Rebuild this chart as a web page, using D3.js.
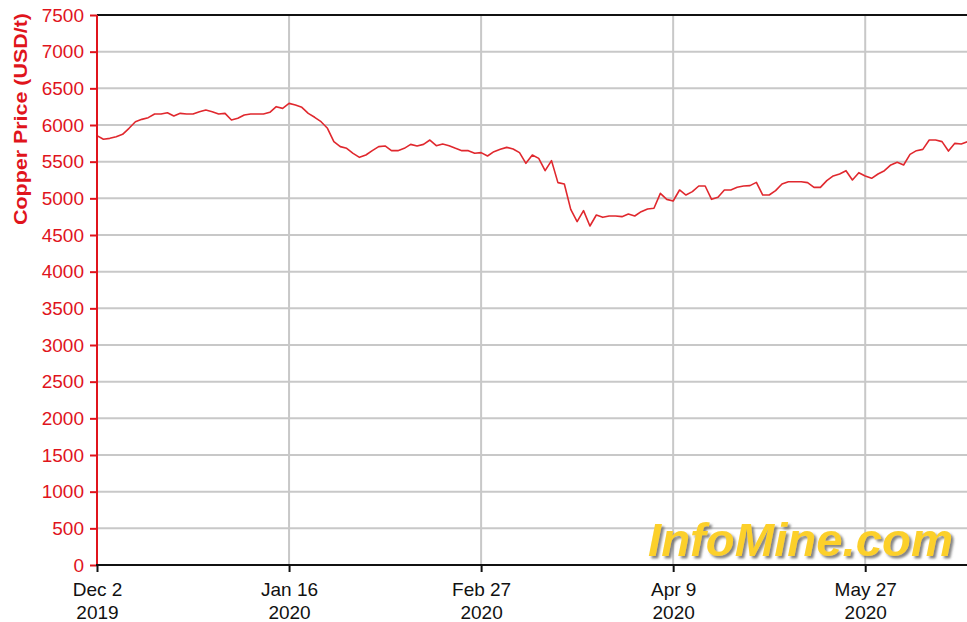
<!DOCTYPE html>
<html>
<head>
<meta charset="utf-8">
<script src="https://cdn.jsdelivr.net/npm/d3@7"></script>
<style>
  html, body { margin: 0; padding: 0; background: #fff; }
  svg { display: block; }
</style>
</head>
<body>
<script>
// ---- Data (LME copper price, USD/t, trading-day index) ----
const prices = [
  5855, 5805, 5818, 5840, 5873, 5955, 6045, 6077, 6100, 6150,
  6150, 6168, 6123, 6159, 6150, 6150, 6182, 6205, 6182, 6150,
  6159, 6068, 6091, 6136, 6150, 6150, 6150, 6173, 6250, 6227,
  6295, 6273, 6241, 6159, 6105, 6045, 5955, 5773, 5705, 5682,
  5614, 5559, 5591, 5650, 5705, 5714, 5650, 5650, 5682, 5736,
  5714, 5736, 5795, 5718, 5741, 5718, 5682, 5650, 5650, 5614,
  5623, 5577, 5636, 5668, 5695, 5673, 5623, 5477, 5591, 5545,
  5377, 5514, 5214, 5195, 4850, 4682, 4832, 4623, 4773, 4741,
  4759, 4759, 4750, 4786, 4759, 4818, 4855, 4864, 5068, 4986,
  4964, 5114, 5045, 5091, 5168, 5168, 4986, 5014, 5114, 5114,
  5150, 5168, 5173, 5218, 5045, 5045, 5105, 5195, 5227, 5227,
  5227, 5214, 5150, 5150, 5241, 5305, 5332, 5377, 5250, 5350,
  5305, 5273, 5332, 5377, 5455, 5491, 5455, 5600, 5650, 5668,
  5795, 5795, 5773, 5645, 5750, 5741, 5773
];
const xTickIndex = [0, 30, 60, 90, 120];
const xTickDate = ["Dec 2", "Jan 16", "Feb 27", "Apr 9", "May 27"];
const xTickYear = ["2019", "2020", "2020", "2020", "2020"];
const yTicks = [0, 500, 1000, 1500, 2000, 2500, 3000, 3500, 4000, 4500,
                5000, 5500, 6000, 6500, 7000, 7500];
const yTitle = "Copper Price (USD/t)";
const watermark = "InfoMine.com";

// ---- Layout ----
const W = 967, H = 622;
const pL = 97, pR = 967, pT = 15, pB = 565;
const red = "#e0141c";

const svg = d3.select("body").append("svg")
  .attr("width", W).attr("height", H)
  .style("font-family", "'Liberation Sans', Arial, sans-serif");

const defs = svg.append("defs");
const flt = defs.append("filter").attr("id", "shadow")
  .attr("x", "-5%").attr("y", "-20%").attr("width", "115%").attr("height", "150%");
flt.append("feDropShadow").attr("dx", 2.5).attr("dy", 2.5).attr("stdDeviation", 0.8)
  .attr("flood-color", "#6e6e6e").attr("flood-opacity", 0.85);

const x = d3.scaleLinear().domain([0, 135.9]).range([pL, pR]);
const y = d3.scaleLinear().domain([0, 7500]).range([pB, pT]);

// gridlines
svg.append("g").selectAll("line").data(yTicks.filter(d => d > 0 && d < 7500))
  .join("line")
  .attr("x1", pL).attr("x2", pR)
  .attr("y1", d => y(d)).attr("y2", d => y(d))
  .attr("stroke", "#c8c8c8").attr("stroke-width", 2);
svg.append("g").selectAll("line").data(xTickIndex.filter(d => d > 0))
  .join("line")
  .attr("x1", d => x(d)).attr("x2", d => x(d))
  .attr("y1", pT).attr("y2", pB)
  .attr("stroke", "#c8c8c8").attr("stroke-width", 2);

// watermark
svg.append("text").attr("x", 648).attr("y", 556).text(watermark)
  .style("font-weight", "bold").style("font-style", "italic").style("font-size", "47px")
  .attr("textLength", 305).attr("lengthAdjust", "spacingAndGlyphs")
  .attr("fill", "#fcd02c").attr("filter", "url(#shadow)");

// clip + line
svg.append("clipPath").attr("id", "clip").append("rect")
  .attr("x", pL).attr("y", pT).attr("width", pR - pL).attr("height", pB - pT);
const line = d3.line().x((d, i) => x(i)).y(d => y(d));
svg.append("path").datum(prices)
  .attr("clip-path", "url(#clip)")
  .attr("d", line)
  .attr("fill", "none").attr("stroke", "#e0282e").attr("stroke-width", 1.6)
  .attr("stroke-linejoin", "round");

// top border
svg.append("line").attr("x1", pL).attr("x2", pR).attr("y1", pT).attr("y2", pT)
  .attr("stroke", "#111").attr("stroke-width", 2);

// y axis
const yAxis = svg.append("g").attr("transform", `translate(${pL},0)`)
  .call(d3.axisLeft(y).tickValues(yTicks).tickSize(7).tickPadding(6).tickFormat(d3.format("d")));
yAxis.select(".domain").remove();
yAxis.selectAll(".tick line").attr("stroke", red).attr("stroke-width", 2);
yAxis.selectAll(".tick text").attr("fill", red).style("font-size", "19px")
  .style("font-family", "'Liberation Sans', Arial, sans-serif");
svg.append("line").attr("x1", pL).attr("x2", pL).attr("y1", pT).attr("y2", pB + 1)
  .attr("stroke", red).attr("stroke-width", 2);

// x axis
const xAxis = svg.append("g").attr("transform", `translate(0,${pB})`)
  .call(d3.axisBottom(x).tickValues(xTickIndex).tickSize(7).tickFormat(() => ""));
xAxis.select(".domain").remove();
xAxis.selectAll(".tick line").attr("stroke", "#111").attr("stroke-width", 2);
xAxis.selectAll(".tick").each(function(d, i) {
  const g = d3.select(this);
  g.select("text").remove();
  g.append("text").attr("y", 31).attr("text-anchor", "middle").attr("fill", "#111")
    .style("font-size", "19px").text(xTickDate[i]);
  g.append("text").attr("y", 54).attr("text-anchor", "middle").attr("fill", "#111")
    .style("font-size", "19px").text(xTickYear[i]);
});
svg.append("line").attr("x1", pL - 1).attr("x2", pR).attr("y1", pB).attr("y2", pB)
  .attr("stroke", "#111").attr("stroke-width", 2);

// y title
svg.append("text")
  .attr("transform", `translate(27,${(12 + 226) / 2}) rotate(-90)`)
  .attr("text-anchor", "middle").attr("fill", red)
  .style("font-weight", "bold").style("font-size", "19px")
  .attr("textLength", 212).attr("lengthAdjust", "spacingAndGlyphs")
  .text(yTitle);
</script>
</body>
</html>
